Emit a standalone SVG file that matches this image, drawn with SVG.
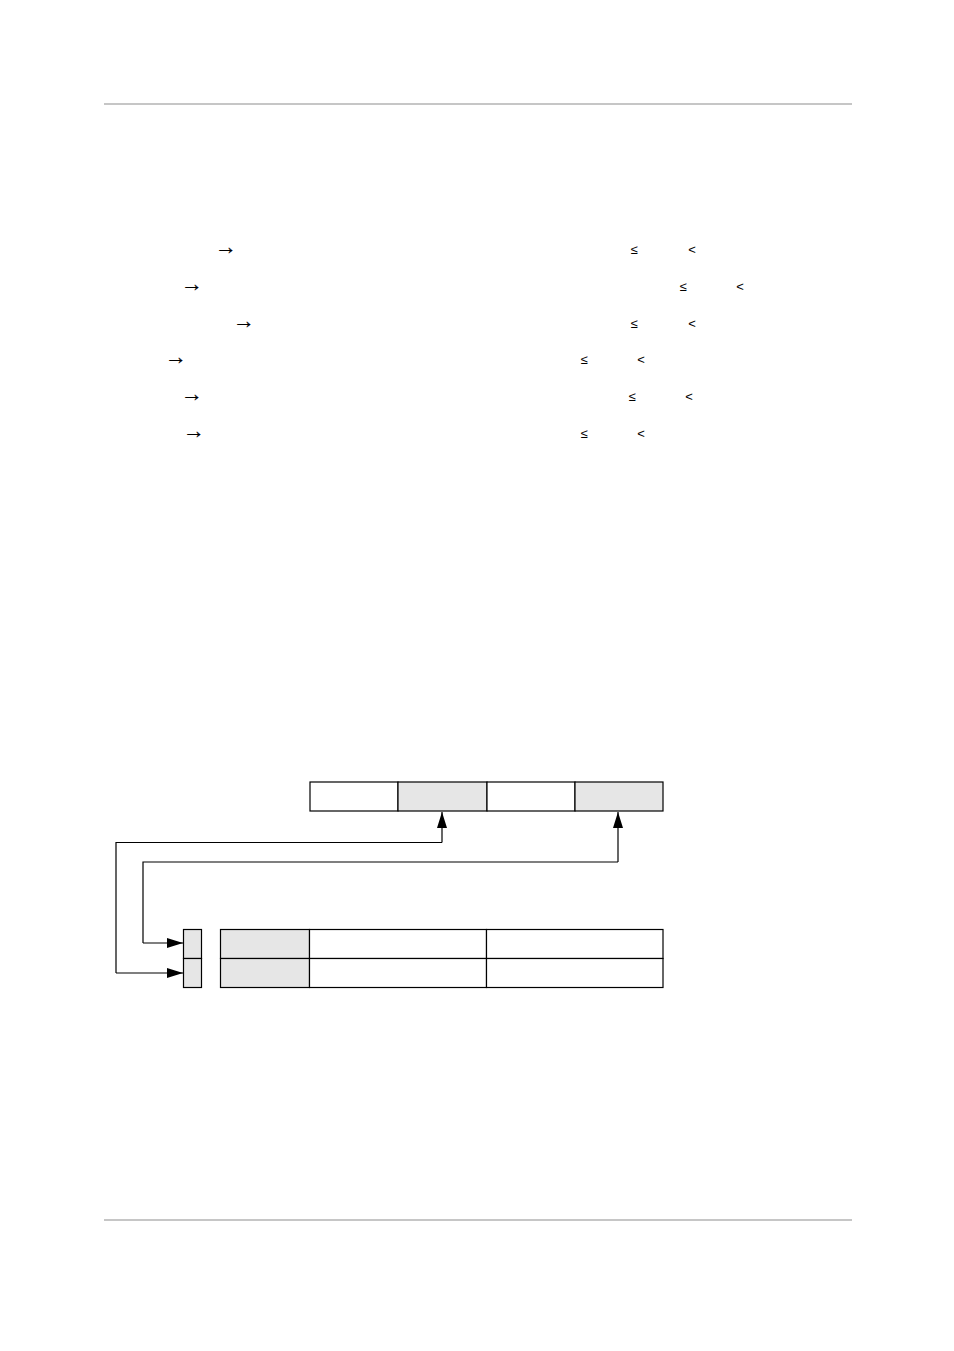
<svg xmlns="http://www.w3.org/2000/svg" width="954" height="1351" viewBox="0 0 954 1351">
<defs>
<style>
.rule{stroke:#b3b3b3;stroke-width:1.3;fill:none}
.sym{font-family:"Liberation Sans","DejaVu Sans",sans-serif;font-size:13px;fill:#000;text-anchor:middle}
.arr{font-family:"Liberation Serif","DejaVu Serif",serif;font-size:22px;fill:#000;stroke:#000;stroke-width:0.2;text-anchor:middle}
.cell{stroke:#000;stroke-width:1.2}
.w{fill:#fff}
.g{fill:#e6e6e6}
.conn{stroke:#000;stroke-width:1.2;fill:none}
</style>
<marker id="ah" viewBox="0 0 16 10" refX="16" refY="5" markerWidth="16" markerHeight="10" markerUnits="userSpaceOnUse" orient="auto">
<path d="M0,0 L16,5 L0,10 Z" fill="#000"/>
</marker>
</defs>
<rect width="954" height="1351" fill="#fff"/>
<line class="rule" x1="104" y1="104" x2="852" y2="104"/>
<line class="rule" x1="104" y1="1220" x2="852" y2="1220"/>
<g id="symbols">
<text class="arr" x="226" y="254">→</text><text class="sym" x="634" y="254">≤</text><text class="sym" x="692" y="254">&lt;</text>
<text class="arr" x="192" y="291">→</text><text class="sym" x="683" y="291">≤</text><text class="sym" x="740" y="291">&lt;</text>
<text class="arr" x="244" y="328">→</text><text class="sym" x="634" y="328">≤</text><text class="sym" x="692" y="328">&lt;</text>
<text class="arr" x="176" y="364">→</text><text class="sym" x="584" y="364">≤</text><text class="sym" x="641" y="364">&lt;</text>
<text class="arr" x="192" y="401">→</text><text class="sym" x="632" y="401">≤</text><text class="sym" x="689" y="401">&lt;</text>
<text class="arr" x="194" y="438">→</text><text class="sym" x="584" y="438">≤</text><text class="sym" x="641" y="438">&lt;</text>
</g>
<g id="top-row">
<rect class="cell w" x="310" y="782" width="88" height="29"/>
<rect class="cell g" x="398" y="782" width="89" height="29"/>
<rect class="cell w" x="487" y="782" width="88" height="29"/>
<rect class="cell g" x="575" y="782" width="88" height="29"/>
</g>
<g id="index-column">
<rect class="cell g" x="183.5" y="929.5" width="18" height="29"/>
<rect class="cell g" x="183.5" y="958.5" width="18" height="29"/>
</g>
<g id="table">
<rect class="cell g" x="220.5" y="929.5" width="89" height="29"/>
<rect class="cell w" x="309.5" y="929.5" width="177" height="29"/>
<rect class="cell w" x="486.5" y="929.5" width="176.5" height="29"/>
<rect class="cell g" x="220.5" y="958.5" width="89" height="29"/>
<rect class="cell w" x="309.5" y="958.5" width="177" height="29"/>
<rect class="cell w" x="486.5" y="958.5" width="176.5" height="29"/>
</g>
<g id="connectors">
<polyline class="conn" points="116,973 116,842.5 442,842.5"/>
<polyline class="conn" points="116,973 183,973" marker-end="url(#ah)"/>
<polyline class="conn" points="442,842.5 442,812" marker-end="url(#ah)"/>
<polyline class="conn" points="143,943 143,862 618,862"/>
<polyline class="conn" points="143,943 183,943" marker-end="url(#ah)"/>
<polyline class="conn" points="618,862 618,812" marker-end="url(#ah)"/>
</g>
</svg>
